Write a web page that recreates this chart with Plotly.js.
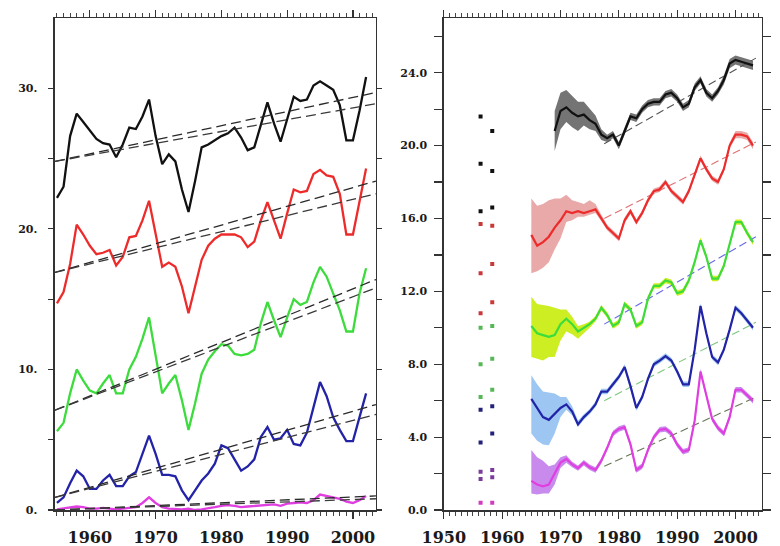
<!DOCTYPE html>
<html>
<head>
<meta charset="utf-8">
<script src="https://cdn.plot.ly/plotly-3.0.1.min.js"></script>
<style>html,body{margin:0;padding:0;background:#fff;}#chart{width:780px;height:546px;}</style>
</head>
<body>
<div id="chart"></div>
<script>
// ---------------- LEFT PANEL DATA (annual, 1955-2002) ----------------
var leftYears = [1955,1956,1957,1958,1959,1960,1961,1962,1963,1964,1965,1966,1967,1968,1969,1970,1971,1972,1973,1974,1975,1976,1977,1978,1979,1980,1981,1982,1983,1984,1985,1986,1987,1988,1989,1990,1991,1992,1993,1994,1995,1996,1997,1998,1999,2000,2001,2002];
var leftBlack = [22.2,23.0,26.6,28.2,27.6,27.0,26.4,26.1,26.0,25.1,26.0,27.2,27.1,28.0,29.2,26.6,24.6,25.3,24.8,22.8,21.2,23.4,25.8,26.0,26.3,26.6,26.8,27.2,26.5,25.6,25.8,27.4,29.0,27.5,26.2,27.8,29.4,29.1,29.2,30.2,30.5,30.2,29.9,28.8,26.3,26.3,28.4,30.8];
var leftRed = [14.7,15.5,17.5,20.3,19.6,18.8,18.2,18.3,18.5,17.4,18.0,19.4,19.5,20.6,22.0,19.6,17.3,17.6,17.3,15.9,14.0,15.9,17.8,18.8,19.3,19.6,19.6,19.6,19.4,18.7,19.1,20.6,21.9,20.6,19.3,21.1,22.8,22.6,22.7,23.9,24.2,23.8,23.7,22.5,19.6,19.6,22.0,24.3];
var leftGreen = [5.6,6.2,8.3,10.0,9.2,8.5,8.3,9.0,9.6,8.3,8.3,10.0,10.9,12.2,13.7,11.0,8.3,9.0,9.6,7.8,5.7,7.6,9.7,10.7,11.3,11.8,11.7,11.1,11.0,11.1,11.4,13.3,14.8,13.5,12.3,13.7,15.0,14.6,14.8,16.2,17.3,16.6,15.4,14.2,12.7,12.7,15.4,17.2];
var leftBlue = [0.5,0.9,1.9,2.8,2.4,1.5,1.5,2.1,2.5,1.7,1.7,2.4,2.7,4.0,5.3,4.0,2.5,2.5,2.4,1.4,0.7,1.4,2.1,2.6,3.3,4.6,4.4,3.6,2.8,3.1,3.6,5.2,5.9,5.0,5.1,5.7,4.7,4.6,5.5,7.3,9.1,8.1,6.6,5.7,4.9,4.9,6.6,8.3];
var leftMagenta = [0.05,0.1,0.2,0.25,0.2,0.1,0.1,0.15,0.1,0.05,0.1,0.15,0.2,0.5,0.9,0.5,0.2,0.1,0.05,0.05,0.1,0.0,0.05,0.1,0.2,0.3,0.35,0.3,0.2,0.25,0.3,0.35,0.4,0.4,0.3,0.45,0.5,0.55,0.5,0.7,1.1,1.0,0.85,0.8,0.6,0.5,0.7,1.0];

// left trend lines: value at left and right edge of the panel (two fits per series)
var leftTrendYears = [1954.7, 2003.5];
var leftTrendStart = [24.8, 16.9, 7.1, 0.9, 0.0];
var leftTrendEndA  = [29.7, 23.4, 16.4, 7.5, 1.0];
var leftTrendEndB  = [28.9, 22.5, 15.8, 6.8, 0.8];

// ---------------- RIGHT PANEL DATA (annual, 1965-2003; black from 1969) ----------------
var rightYears = [1965,1966,1967,1968,1969,1970,1971,1972,1973,1974,1975,1976,1977,1978,1979,1980,1981,1982,1983,1984,1985,1986,1987,1988,1989,1990,1991,1992,1993,1994,1995,1996,1997,1998,1999,2000,2001,2002,2003];
var rightYearsBlack = [1969,1970,1971,1972,1973,1974,1975,1976,1977,1978,1979,1980,1981,1982,1983,1984,1985,1986,1987,1988,1989,1990,1991,1992,1993,1994,1995,1996,1997,1998,1999,2000,2001,2002,2003];
var rightBlack = [20.8,21.9,22.1,21.8,21.6,21.7,21.4,21.2,20.6,20.4,20.6,20.0,20.8,21.6,21.5,22.0,22.3,22.4,22.4,22.8,22.9,22.6,22.1,22.3,23.2,23.6,22.9,22.6,23.0,23.6,24.5,24.7,24.6,24.5,24.4];
var rightRed = [15.1,14.5,14.7,15.0,15.5,15.9,16.4,16.3,16.4,16.3,16.4,16.5,16.0,15.5,15.2,14.9,15.9,16.4,15.8,16.3,17.0,17.5,17.6,18.0,17.5,17.2,16.9,17.5,18.4,19.3,18.7,18.2,18.0,18.7,20.0,20.6,20.6,20.5,20.0];
var rightGreen = [10.1,9.7,9.6,9.5,9.6,10.2,10.5,10.2,9.8,10.0,10.2,10.5,11.1,10.7,10.1,10.3,11.3,11.0,10.1,10.3,11.6,12.3,12.3,12.6,12.5,11.9,12.0,12.6,13.6,14.8,13.9,12.7,12.7,13.4,14.6,15.8,15.8,15.2,14.7];
var rightBlue = [6.1,5.6,5.1,4.95,5.3,5.6,5.8,5.4,4.7,5.1,5.4,5.8,6.5,6.5,6.9,7.3,7.85,6.8,5.6,6.2,7.2,8.0,8.2,8.45,8.2,7.6,6.9,6.9,8.8,11.2,9.7,8.4,8.1,8.8,9.9,11.1,10.8,10.4,10.0];
var rightMagenta = [1.6,1.4,1.3,1.4,2.0,2.6,2.8,2.5,2.3,2.6,2.35,2.2,2.7,3.4,4.2,4.45,4.55,3.6,2.2,2.4,3.3,4.0,4.4,4.45,4.2,3.6,3.2,3.3,4.9,7.6,6.3,5.0,4.5,4.2,5.1,6.6,6.6,6.3,6.0];

// spread bands: amount above / below each line
var bandBlackUp = [1.1,1.0,0.95,0.9,0.8,0.7,0.6,0.45,0.3,0.2,0.2,0.2,0.2,0.2,0.2,0.2,0.2,0.2,0.2,0.2,0.2,0.2,0.2,0.2,0.2,0.2,0.2,0.2,0.2,0.25,0.25,0.25,0.25,0.25,0.25];
var bandBlackDn = [1.1,1.0,0.8,0.8,0.8,0.6,0.5,0.4,0.3,0.2,0.2,0.2,0.2,0.2,0.2,0.2,0.2,0.2,0.2,0.2,0.2,0.2,0.2,0.2,0.2,0.2,0.2,0.2,0.2,0.25,0.25,0.25,0.25,0.25,0.25];
var bandRedUp = [2.0,2.2,2.1,2.0,1.6,1.2,0.9,0.7,0.5,0.5,0.6,0.3,0.2,0.15,0.15,0.15,0.15,0.15,0.15,0.15,0.15,0.15,0.15,0.15,0.15,0.15,0.15,0.15,0.15,0.15,0.15,0.15,0.15,0.15,0.15,0.2,0.2,0.2,0.2];
var bandRedDn = [2.1,1.4,1.4,1.4,1.2,1.0,0.6,0.4,0.3,0.2,0.2,0.2,0.15,0.15,0.15,0.15,0.15,0.15,0.15,0.15,0.15,0.15,0.15,0.15,0.15,0.15,0.15,0.15,0.15,0.15,0.15,0.15,0.15,0.15,0.15,0.2,0.2,0.2,0.2];
var bandGreenUp = [1.6,1.6,1.65,1.7,1.5,0.8,0.5,0.4,0.3,0.2,0.15,0.15,0.15,0.15,0.15,0.15,0.15,0.15,0.15,0.15,0.15,0.15,0.15,0.15,0.15,0.15,0.15,0.15,0.15,0.15,0.15,0.15,0.15,0.15,0.15,0.15,0.15,0.15,0.15];
var bandGreenDn = [1.7,1.4,1.4,1.1,1.2,0.9,0.7,0.55,0.4,0.3,0.2,0.15,0.15,0.15,0.15,0.15,0.15,0.15,0.15,0.15,0.15,0.15,0.15,0.15,0.15,0.15,0.15,0.15,0.15,0.15,0.15,0.15,0.15,0.15,0.15,0.15,0.15,0.15,0.15];
var bandBlueUp = [1.3,1.3,1.4,1.5,1.1,0.6,0.4,0.3,0.2,0.15,0.15,0.15,0.15,0.15,0.15,0.15,0.15,0.15,0.15,0.15,0.15,0.15,0.15,0.15,0.15,0.15,0.15,0.15,0.15,0.15,0.15,0.15,0.15,0.15,0.15,0.15,0.15,0.15,0.15];
var bandBlueDn = [1.9,1.8,1.5,1.4,1.1,0.5,0.3,0.2,0.15,0.15,0.15,0.15,0.15,0.15,0.15,0.15,0.15,0.15,0.15,0.15,0.15,0.15,0.15,0.15,0.15,0.15,0.15,0.15,0.15,0.15,0.15,0.15,0.15,0.15,0.15,0.15,0.15,0.15,0.15];
var bandMagentaUp = [1.7,1.5,1.4,1.0,0.5,0.3,0.2,0.15,0.15,0.15,0.15,0.15,0.15,0.15,0.15,0.15,0.15,0.15,0.15,0.15,0.15,0.15,0.15,0.15,0.15,0.15,0.15,0.15,0.15,0.15,0.15,0.15,0.15,0.15,0.15,0.15,0.15,0.15,0.15];
var bandMagentaDn = [0.7,0.55,0.4,0.5,0.6,0.3,0.2,0.15,0.15,0.15,0.15,0.15,0.15,0.15,0.15,0.15,0.15,0.15,0.15,0.15,0.15,0.15,0.15,0.15,0.15,0.15,0.15,0.15,0.15,0.15,0.15,0.15,0.15,0.15,0.15,0.15,0.15,0.15,0.15];

// right trend lines
var rightTrendYears = [1977.5, 2003.5];
var rightTrendBlack = [20.1, 24.8];
var rightTrendRed = [16.0, 20.2];
var rightTrendGreen = [10.2, 15.0];
var rightTrendBlue = [6.0, 10.3];
var rightTrendMagenta = [2.4, 6.2];

// isolated markers at two early years
var dotYears = [1956.3, 1958.3];
var dotsBlackA = [21.6, 19.0, 16.4], dotsBlackB = [20.8, 18.6, 16.6];
var dotsRedA = [15.7, 13.0, 10.8], dotsRedB = [15.6, 13.5, 11.4];
var dotsGreenA = [10.0, 8.0, 6.2], dotsGreenB = [10.1, 8.3, 6.6];
var dotsBlueA = [5.5, 3.7], dotsBlueB = [5.7, 4.2];
var dotsPurpleA = [2.1, 1.7], dotsPurpleB = [2.2, 1.8];
var dotsMagentaA = [0.4], dotsMagentaB = [0.4];

// tick labels
var leftXTicks = [1960,1970,1980,1990,2000];
var rightXTicks = [1950,1960,1970,1980,1990,2000];
var leftYTicks = [0,5,10,15,20,25,30];
var leftYText = ['0.','','10.','','20.','','30.'];
var rightYTicks = [0,2,4,6,8,10,12,14,16,18,20,22,24,26];
var rightYText = ['0.0','','4.0','','8.0','','12.0','','16.0','','20.0','','24.0',''];

// ---------------- BUILD ----------------
var C = {black:'#111111', red:'#ee2b2b', green:'#3cdc3c', blue:'#2323a8', magenta:'#e03ee0'};
var traces = [];

function line(x, y, color, xa, ya, w, dash) {
  return {x:x, y:y, type:'scatter', mode:'lines', xaxis:xa, yaxis:ya,
    line:{color:color, width:w||2, dash:dash||'solid'}, hoverinfo:'skip', showlegend:false};
}
function band(x, y, up, dn, color) {
  var xs = [], ys = [];
  for (var i = 0; i < x.length; i++) { xs.push(x[i]); ys.push(y[i] + up[i]); }
  for (var j = x.length - 1; j >= 0; j--) { xs.push(x[j]); ys.push(y[j] - dn[j]); }
  return {x:xs, y:ys, type:'scatter', mode:'lines', fill:'toself', fillcolor:color,
    line:{width:0, color:color}, xaxis:'x2', yaxis:'y2', hoverinfo:'skip', showlegend:false};
}
function dots(ya, yb, color) {
  var xs = [], ys = [];
  ya.forEach(function(v){ xs.push(dotYears[0]); ys.push(v); });
  yb.forEach(function(v){ xs.push(dotYears[1]); ys.push(v); });
  return {x:xs, y:ys, type:'scatter', mode:'markers', xaxis:'x2', yaxis:'y2',
    marker:{symbol:'square', size:4, color:color}, hoverinfo:'skip', showlegend:false};
}

// left panel
var leftSeries = [[leftBlack,C.black],[leftRed,C.red],[leftGreen,C.green],[leftBlue,C.blue],[leftMagenta,C.magenta]];
leftSeries.forEach(function(s){ traces.push(line(leftYears, s[0], s[1], 'x', 'y', 2.3)); });
for (var k = 0; k < leftTrendStart.length; k++) {
  traces.push(line(leftTrendYears, [leftTrendStart[k], leftTrendEndA[k]], '#2a2a2a', 'x', 'y', 1.3, '10px,5px'));
  traces.push(line(leftTrendYears, [leftTrendStart[k], leftTrendEndB[k]], '#3a3a3a', 'x', 'y', 1.3, '10px,5px'));
}

// right panel bands
traces.push(band(rightYearsBlack, rightBlack, bandBlackUp, bandBlackDn, 'rgba(70,70,70,0.75)'));
traces.push(band(rightYears, rightRed, bandRedUp, bandRedDn, 'rgba(226,140,140,0.75)'));
traces.push(band(rightYears, rightGreen, bandGreenUp, bandGreenDn, 'rgba(200,236,10,0.9)'));
traces.push(band(rightYears, rightBlue, bandBlueUp, bandBlueDn, 'rgba(140,188,240,0.85)'));
traces.push(band(rightYears, rightMagenta, bandMagentaUp, bandMagentaDn, 'rgba(186,110,232,0.8)'));

// right panel trends
traces.push(line(rightTrendYears, rightTrendBlack, '#555555', 'x2', 'y2', 1.1, '8px,4px'));
traces.push(line(rightTrendYears, rightTrendRed, '#e07070', 'x2', 'y2', 1.1, '8px,4px'));
traces.push(line(rightTrendYears, rightTrendGreen, '#6a6ae8', 'x2', 'y2', 1.1, '8px,4px'));
traces.push(line(rightTrendYears, rightTrendBlue, '#7cc87c', 'x2', 'y2', 1.1, '8px,4px'));
traces.push(line(rightTrendYears, rightTrendMagenta, '#667755', 'x2', 'y2', 1.1, '8px,4px'));

// right panel lines
traces.push(line(rightYearsBlack, rightBlack, C.black, 'x2', 'y2', 2.2));
traces.push(line(rightYears, rightRed, C.red, 'x2', 'y2', 2.2));
traces.push(line(rightYears, rightGreen, C.green, 'x2', 'y2', 2.2));
traces.push(line(rightYears, rightBlue, C.blue, 'x2', 'y2', 2.2));
traces.push(line(rightYears, rightMagenta, C.magenta, 'x2', 'y2', 2.2));

// dots
traces.push(dots(dotsBlackA, dotsBlackB, '#111111'));
traces.push(dots(dotsRedA, dotsRedB, '#c83a3a'));
traces.push(dots(dotsGreenA, dotsGreenB, '#55b855'));
traces.push(dots(dotsBlueA, dotsBlueB, '#22227a'));
traces.push(dots(dotsPurpleA, dotsPurpleB, '#7a3c9c'));
traces.push(dots(dotsMagentaA, dotsMagentaB, '#d03cc0'));

var xFont = {family:'DejaVu Serif, serif', size:16, color:'#1a1a1a', weight:'bold'};
var yFont = {family:'DejaVu Serif, serif', size:11, color:'#1a1a1a', weight:'bold'};
var yDom = [0.0659, 0.967];
function xAxis(dom, rng, ticks, anchor) {
  return {domain:dom, range:rng, anchor:anchor, showgrid:false, zeroline:false,
    showline:true, linecolor:'#333', linewidth:1.5, mirror:'allticks',
    ticks:'outside', ticklen:7, tickwidth:1.2, tickcolor:'#333',
    tickmode:'array', tickvals:ticks, ticktext:ticks.map(String), tickfont:xFont, ticklabelstandoff:5,
    minor:{tickmode:'linear', tick0:1950, dtick:1, ticks:'outside', ticklen:4, tickwidth:1, tickcolor:'#444', showgrid:false},
    automargin:false, fixedrange:true};
}
function yAxis(rng, vals, text, anchor, len, standoff) {
  return {domain:yDom, range:rng, anchor:anchor, showgrid:false, zeroline:false,
    showline:true, linecolor:'#333', linewidth:1.5, mirror:'allticks',
    ticks:'outside', ticklen:len, tickwidth:1.2, tickcolor:'#333',
    tickmode:'array', tickvals:vals, ticktext:text, tickfont:yFont, ticklabelstandoff:standoff,
    automargin:false, fixedrange:true};
}

var layout = {
  width:780, height:546, margin:{l:0, r:0, t:0, b:0},
  paper_bgcolor:'#fff', plot_bgcolor:'#fff', showlegend:false,
  xaxis: xAxis([0.0705, 0.482], [1954.7, 2003.5], leftXTicks, 'y'),
  yaxis: yAxis([0, 35], leftYTicks, leftYText, 'x', 5, 9),
  xaxis2: xAxis([0.569, 0.9766], [1950, 2004.5], rightXTicks, 'y2'),
  yaxis2: yAxis([0, 27], rightYTicks, rightYText, 'x2', 8, 5)
};

Plotly.newPlot('chart', traces, layout, {staticPlot:true, displayModeBar:false});
</script>
</body>
</html>
